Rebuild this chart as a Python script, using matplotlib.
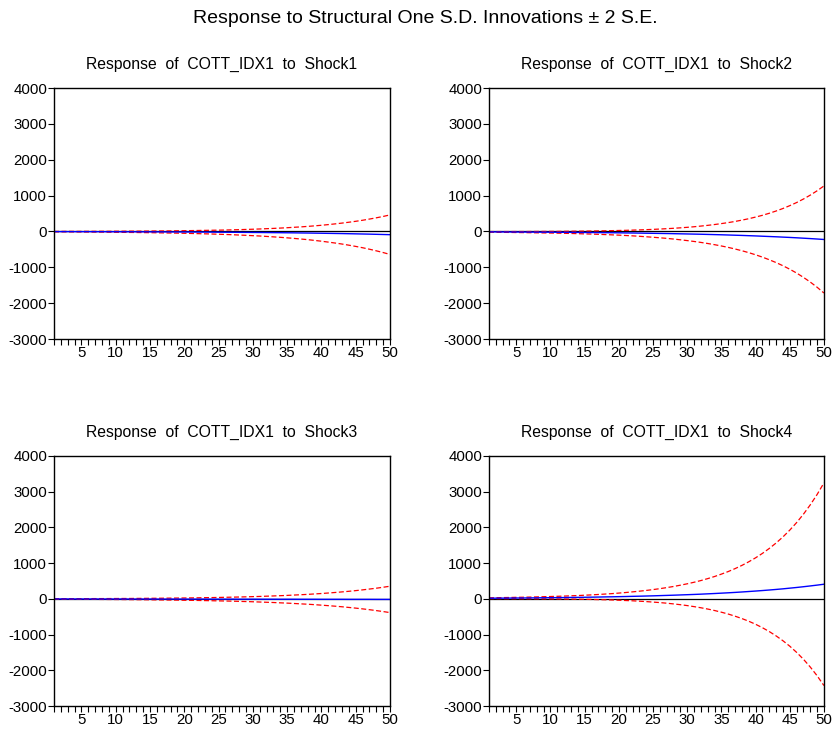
import numpy as np
import matplotlib.pyplot as plt

plt.rcParams['font.family'] = ['Liberation Sans', 'DejaVu Sans']
plt.rcParams['axes.unicode_minus'] = False

periods = np.arange(1, 51)

# impulse responses of COTT_IDX1
resp1 = [-5, -5, -5, -6, -6, -6, -7, -7, -8, -8, -9, -9, -10, -11, -11, -12, -13, -14, -14, -15,
         -16, -17, -18, -19, -21, -22, -23, -25, -26, -28, -29, -31, -33, -35, -37, -39, -42, -44, -47, -50,
         -53, -56, -59, -63, -67, -71, -75, -80, -85, -90]
resp2 = [-12, -13, -14, -15, -16, -17, -18, -19, -20, -21, -23, -24, -25, -27, -29, -30, -32, -34, -36, -38,
         -41, -43, -46, -49, -52, -55, -58, -62, -66, -70, -74, -78, -83, -88, -93, -99, -105, -111, -118, -125,
         -133, -141, -149, -158, -167, -177, -188, -199, -211, -224]
resp3 = [-2, -2, -2, -3, -3, -3, -3, -4, -4, -4, -4, -5, -5, -5, -5, -6, -6, -6, -6, -7,
         -7, -7, -7, -8, -8, -8, -8, -9, -9, -9, -10, -10, -10, -11, -11, -11, -12, -12, -12, -13,
         -13, -13, -13, -14, -14, -14, -14, -15, -15, -15]
resp4 = [18, 20, 21, 22, 24, 25, 27, 29, 31, 33, 35, 37, 40, 42, 45, 48, 51, 55, 58, 62,
         66, 71, 75, 80, 85, 91, 97, 103, 110, 117, 124, 132, 141, 150, 160, 170, 181, 193, 206, 219,
         233, 248, 264, 281, 300, 319, 340, 362, 385, 410]

# two standard errors
se2_1 = [6, 7, 8, 8, 9, 10, 11, 12, 13, 15, 16, 18, 19, 21, 23, 25, 28, 30, 33, 36,
         40, 44, 48, 52, 57, 62, 68, 75, 82, 90, 98, 108, 118, 129, 141, 155, 169, 185, 203, 222,
         244, 267, 292, 320, 350, 383, 420, 460, 503, 551]
se2_2 = [9, 10, 11, 12, 14, 15, 17, 19, 21, 23, 25, 28, 31, 35, 39, 43, 48, 53, 59, 65,
         72, 80, 89, 99, 110, 122, 135, 150, 167, 185, 205, 228, 253, 281, 312, 346, 384, 427, 473, 526,
         583, 648, 719, 798, 886, 983, 1092, 1212, 1345, 1493]
se2_3 = [6, 7, 8, 8, 9, 10, 11, 12, 13, 14, 15, 16, 18, 19, 21, 23, 25, 27, 29, 32,
         34, 37, 41, 44, 48, 52, 56, 61, 66, 72, 78, 85, 92, 100, 108, 118, 128, 138, 150, 163,
         177, 192, 208, 226, 245, 266, 289, 313, 340, 369]
se2_4 = [12, 13, 15, 17, 19, 21, 23, 26, 30, 33, 37, 41, 46, 51, 57, 64, 72, 80, 89, 100,
         112, 125, 140, 156, 175, 195, 218, 244, 273, 305, 341, 381, 426, 476, 533, 595, 666, 744, 832, 930,
         1040, 1163, 1300, 1453, 1624, 1816, 2030, 2270, 2537, 2837]

responses = [resp1, resp2, resp3, resp4]
bands = [se2_1, se2_2, se2_3, se2_4]
titles = ['Response  of  COTT_IDX1  to  Shock1', 'Response  of  COTT_IDX1  to  Shock2',
          'Response  of  COTT_IDX1  to  Shock3', 'Response  of  COTT_IDX1  to  Shock4']
yticks = [-3000, -2000, -1000, 0, 1000, 2000, 3000, 4000]
xticks = [5, 10, 15, 20, 25, 30, 35, 40, 45, 50]

fig = plt.figure(figsize=(8.32, 7.33), dpi=100)
positions = [[0.0649, 0.5375, 0.4038, 0.3424],
             [0.5877, 0.5375, 0.4026, 0.3424],
             [0.0649, 0.0368, 0.4038, 0.3411],
             [0.5877, 0.0368, 0.4026, 0.3411]]

for i in range(4):
    ax = fig.add_axes(positions[i])
    r = np.array(responses[i])
    b = np.array(bands[i])
    ax.axhline(0, color='black', lw=0.9, zorder=1)
    ax.plot(periods, r + b, color='red', ls=(0, (4, 2)), lw=0.9)
    ax.plot(periods, r - b, color='red', ls=(0, (4, 2)), lw=0.9)
    ax.plot(periods, r, color='blue', lw=1.0)
    ax.set_xlim(1, 50)
    ax.set_ylim(-3000, 4000)
    ax.set_yticks(yticks)
    ax.set_xticks(xticks)
    ax.set_xticks(periods, minor=True)
    ax.tick_params(axis='both', direction='out', length=4, width=0.8, labelsize=10.8, pad=1)
    ax.tick_params(axis='x', which='minor', direction='out', length=4, width=0.8)
    ax.tick_params(axis='y', which='minor', left=False)
    for s in ax.spines.values():
        s.set_linewidth(1.0)
    ax.set_title(titles[i], fontsize=11.3, pad=14)

fig.suptitle('Response to Structural One S.D. Innovations \u00b1 2 S.E.', fontsize=14, x=0.511, y=0.987)
plt.savefig('out.png', dpi=100)
